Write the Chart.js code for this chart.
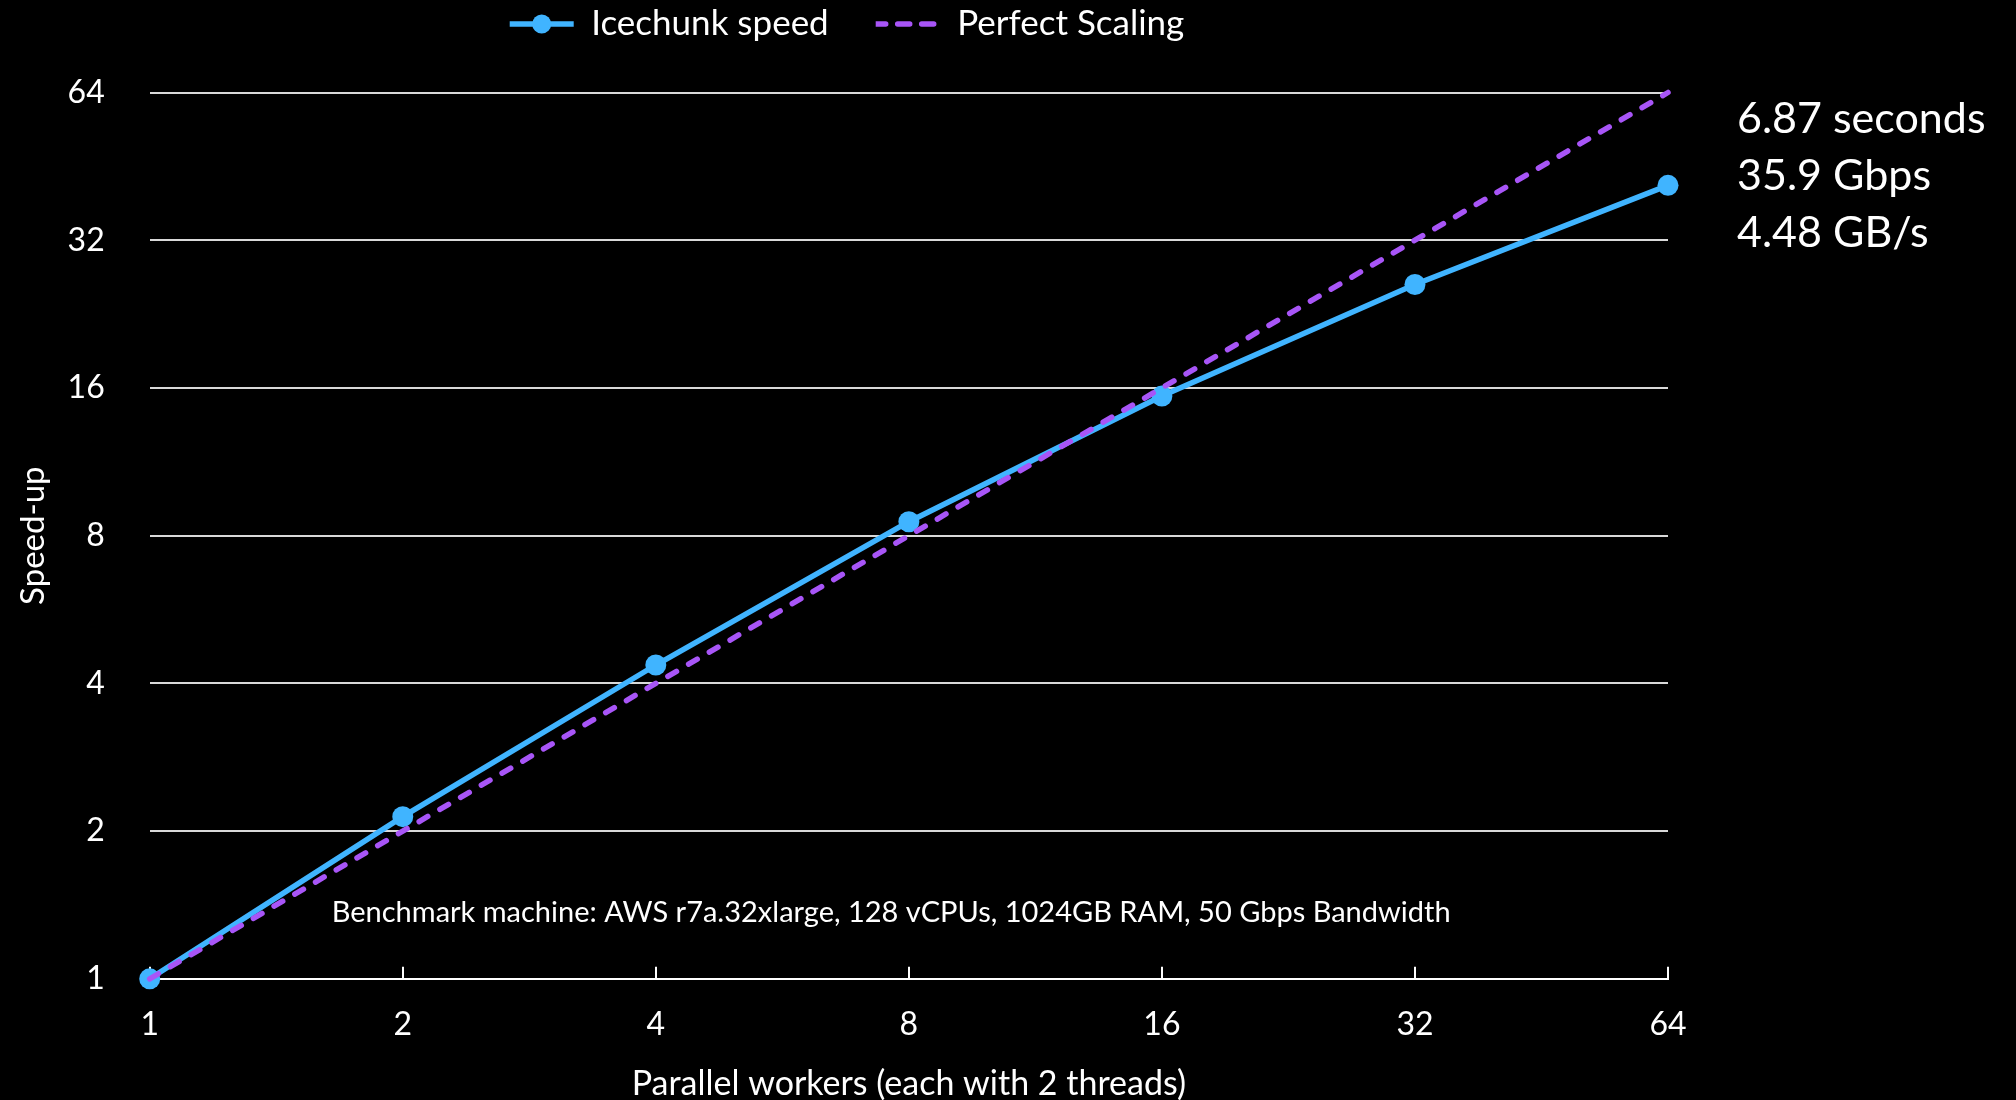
<!DOCTYPE html>
<html>
<head>
<meta charset="utf-8">
<script src="https://cdn.jsdelivr.net/npm/chart.js@4.4.0/dist/chart.umd.min.js"></script>
<style>
  body { margin: 0; background: #000; }
  #wrap { width: 2016px; height: 1100px; }
</style>
</head>
<body>
<div id="wrap"><canvas id="speedChart" width="2016" height="1100"></canvas></div>
<script>
// data
const workers = ['1', '2', '4', '8', '16', '32', '64'];
const icechunkSpeedup = [1, 2.14, 4.36, 8.54, 15.4, 26.0, 41.4];
const perfectScaling = [1, 2, 4, 8, 16, 32, 64];
const yTicks = [1, 2, 4, 8, 16, 32, 64];
const resultLines = ['6.87 seconds', '35.9 Gbps', '4.48 GB/s'];
const machineNote = 'Benchmark machine: AWS r7a.32xlarge, 128 vCPUs, 1024GB RAM, 50 Gbps Bandwidth';

const blue = 'rgb(64, 180, 255)';
const purple = 'rgb(168, 85, 247)';
const FONT = 'Lato';

Chart.defaults.font.family = FONT;
Chart.defaults.color = '#fff';

// legend: fixed height so the plot starts where it should, nudged right a bit
const legendTweak = {
    id: 'legendTweak',
    afterInit(chart) {
        const legend = chart.legend;
        const fit = legend.fit;
        legend.fit = function () {
            fit.call(this);
            this.height = 133;
        };
    },
    afterUpdate(chart) {
        const legend = chart.legend;
        const dx = 8;
        legend.left += dx;
        legend.right += dx;
        legend.legendHitBoxes.forEach(b => { b.left += dx; });
    }
};

// side notes + dot on the first legend item
const notesPlugin = {
    id: 'notes',
    afterDraw(chart) {
        const ctx = chart.ctx;
        const area = chart.chartArea;
        ctx.save();
        ctx.fillStyle = '#fff';
        ctx.textAlign = 'left';
        ctx.textBaseline = 'alphabetic';
        ctx.font = `43px ${FONT}`;
        resultLines.forEach((t, i) => {
            ctx.fillText(t, area.right + 69, area.top + 40 + i * 57);
        });
        ctx.font = `29px ${FONT}`;
        ctx.textBaseline = 'middle';
        ctx.fillText(machineNote, area.left + 182, area.bottom - 66);

        const box = chart.legend.legendHitBoxes[0];
        const bw = chart.legend.options.labels.boxWidth;
        const fs = chart.legend.options.labels.font.size;
        ctx.fillStyle = blue;
        ctx.beginPath();
        ctx.arc(box.left + bw / 2, box.top + fs / 2, 9.5, 0, Math.PI * 2);
        ctx.fill();
        ctx.restore();
    }
};

new Chart(document.getElementById('speedChart').getContext('2d'), {
    type: 'line',
    data: {
        labels: workers,
        datasets: [{
            label: 'Icechunk speed',
            data: icechunkSpeedup,
            borderColor: blue,
            backgroundColor: blue,
            borderWidth: 5.5,
            pointRadius: 10.5,
            pointBorderWidth: 0,
            pointBackgroundColor: blue,
            tension: 0,
            clip: false,
            order: 1
        }, {
            label: 'Perfect Scaling',
            data: perfectScaling,
            borderColor: purple,
            backgroundColor: purple,
            borderWidth: 5.5,
            borderDash: [10, 14],
            borderCapStyle: 'round',
            pointRadius: 0,
            tension: 0,
            clip: false,
            order: 0
        }]
    },
    options: {
        responsive: false,
        animation: false,
        devicePixelRatio: 1,
        layout: {
            padding: { left: 10, right: 348, top: -40.5, bottom: 0 }
        },
        plugins: {
            legend: {
                position: 'top',
                labels: {
                    boxWidth: 64,
                    boxHeight: 0,
                    padding: 47,
                    color: '#fff',
                    font: { size: 35 },
                    sort: (a, b) => a.datasetIndex - b.datasetIndex
                }
            },
            tooltip: { enabled: false }
        },
        scales: {
            x: {
                type: 'category',
                grid: {
                    drawOnChartArea: false,
                    drawTicks: true,
                    tickLength: -12,
                    color: '#fff',
                    lineWidth: 2
                },
                border: { display: true, color: '#fff', width: 2 },
                ticks: { color: '#fff', font: { size: 32 }, padding: 39, maxRotation: 0 },
                title: {
                    display: true,
                    text: 'Parallel workers (each with 2 threads)',
                    color: '#fff',
                    font: { size: 34 },
                    padding: { top: -20, bottom: -4 }
                }
            },
            y: {
                type: 'logarithmic',
                min: 1,
                max: 64,
                afterBuildTicks: (scale) => {
                    scale.ticks = yTicks.map(v => ({ value: v }));
                },
                grid: { color: '#d9d9d9', lineWidth: 2, drawTicks: false },
                border: { display: false },
                ticks: {
                    color: '#fff',
                    font: { size: 32 },
                    padding: 45,
                    callback: (v) => String(v)
                },
                title: {
                    display: true,
                    text: 'Speed-up',
                    color: '#fff',
                    font: { size: 33 },
                    padding: { top: 4, bottom: -31 }
                }
            }
        }
    },
    plugins: [legendTweak, notesPlugin]
});
</script>
</body>
</html>
